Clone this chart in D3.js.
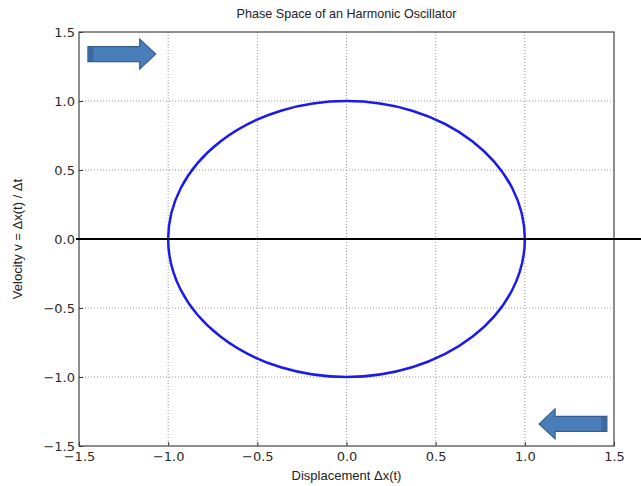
<!DOCTYPE html>
<html>
<head>
<meta charset="utf-8">
<script src="https://cdn.jsdelivr.net/npm/d3@7/dist/d3.min.js"></script>
<style>
  body { margin: 0; background: #fff; }
  .tick text { font-family: "DejaVu Sans", sans-serif; font-size: 13px; fill: #2a2a2a; }
  .lbl { font-family: "Liberation Sans", Arial, sans-serif; font-size: 13px; fill: #222; }
</style>
</head>
<body>
<div id="chart"></div>
<script>
// axis ticks
const xTicks = [-1.5, -1.0, -0.5, 0.0, 0.5, 1.0, 1.5];
const yTicks = [-1.5, -1.0, -0.5, 0.0, 0.5, 1.0, 1.5];

// orbit: centre and amplitudes (displacement, velocity)
const orbitCenter = [0, 0];
const orbitAmp = [1.0, 1.0];

// direction arrows: x start, x end, y (data units)
const arrowX0 = [-1.45, 1.46];
const arrowX1 = [-1.07, 1.08];
const arrowY = [1.34, -1.34];

const width = 641, height = 486;
const margin = { left: 79, right: 27, top: 32, bottom: 40 };

const svg = d3.select("#chart").append("svg")
  .attr("width", width)
  .attr("height", height);

const x = d3.scaleLinear().domain([-1.5, 1.5]).range([margin.left, width - margin.right]);
const y = d3.scaleLinear().domain([-1.5, 1.5]).range([height - margin.bottom, margin.top]);

// grid
svg.append("g")
  .selectAll("line")
  .data(xTicks.slice(1, -1))
  .join("line")
  .attr("x1", d => x(d)).attr("x2", d => x(d))
  .attr("y1", y(1.5)).attr("y2", y(-1.5))
  .attr("stroke", "#999").attr("stroke-width", 1)
  .attr("stroke-dasharray", "1,2");

svg.append("g")
  .selectAll("line")
  .data(yTicks.slice(1, -1))
  .join("line")
  .attr("x1", x(-1.5)).attr("x2", x(1.5))
  .attr("y1", d => y(d)).attr("y2", d => y(d))
  .attr("stroke", "#999").attr("stroke-width", 1)
  .attr("stroke-dasharray", "1,2");

// axes
const fmt = d3.format(".1f");
const xAxis = svg.append("g")
  .attr("transform", "translate(0," + y(-1.5) + ")")
  .call(d3.axisBottom(x).tickValues(xTicks).tickFormat(d => fmt(d).replace("-", "\u2212")).tickSize(-4).tickPadding(6));
const yAxis = svg.append("g")
  .attr("transform", "translate(" + x(-1.5) + ",0)")
  .call(d3.axisLeft(y).tickValues(yTicks).tickFormat(d => fmt(d).replace("-", "\u2212")).tickSize(-4).tickPadding(4));
[xAxis, yAxis].forEach(a => {
  a.select(".domain").remove();
  a.selectAll(".tick line").attr("stroke", "#333");
});

// frame
svg.append("rect")
  .attr("x", x(-1.5)).attr("y", y(1.5))
  .attr("width", x(1.5) - x(-1.5)).attr("height", y(-1.5) - y(1.5))
  .attr("fill", "none").attr("stroke", "#444").attr("stroke-width", 1.2);

// orbit
svg.append("ellipse")
  .attr("cx", x(orbitCenter[0])).attr("cy", y(orbitCenter[1]))
  .attr("rx", x(orbitAmp[0]) - x(0)).attr("ry", y(0) - y(orbitAmp[1]))
  .attr("fill", "none").attr("stroke", "#1a1aee").attr("stroke-width", 2.5);

// zero line
svg.append("line")
  .attr("x1", x(-1.5) - 3).attr("x2", width)
  .attr("y1", y(0)).attr("y2", y(0))
  .attr("stroke", "#000").attr("stroke-width", 2);

// arrows
const arrows = arrowX0.map((d, i) => ({ x0: arrowX0[i], x1: arrowX1[i], y: arrowY[i] }));
svg.append("g")
  .selectAll("path")
  .data(arrows)
  .join("path")
  .attr("d", d => {
    const a = x(d.x0), b = x(d.x1), c = y(d.y);
    const s = Math.sign(b - a);
    const hb = b - s * 16;
    return "M" + a + "," + (c - 7.5) + "L" + hb + "," + (c - 7.5) + "L" + hb + "," + (c - 15) +
      "L" + b + "," + c + "L" + hb + "," + (c + 15) + "L" + hb + "," + (c + 7.5) +
      "L" + a + "," + (c + 7.5) + "Z";
  })
  .attr("fill", "#4a7ebb").attr("stroke", "#385d8a").attr("stroke-width", 1.2);

// darker tail strip
svg.append("g")
  .selectAll("rect")
  .data(arrows)
  .join("rect")
  .attr("x", d => x(d.x1) > x(d.x0) ? x(d.x0) + 0.6 : x(d.x0) - 5.6)
  .attr("y", d => y(d.y) - 6.9)
  .attr("width", 5).attr("height", 13.8)
  .attr("fill", "#3b6aa3");

// labels
svg.append("text").attr("class", "lbl")
  .attr("x", x(0)).attr("y", 18)
  .attr("text-anchor", "middle")
  .style("font-size", "12.6px")
  .text("Phase Space of an Harmonic Oscillator");

svg.append("text").attr("class", "lbl")
  .attr("x", x(0)).attr("y", 480)
  .attr("text-anchor", "middle")
  .text("Displacement \u0394x(t)");

svg.append("text").attr("class", "lbl")
  .attr("transform", "translate(22," + y(0) + ") rotate(-90)")
  .attr("text-anchor", "middle")
  .text("Velocity v = \u0394x(t) / \u0394t");
</script>
</body>
</html>
